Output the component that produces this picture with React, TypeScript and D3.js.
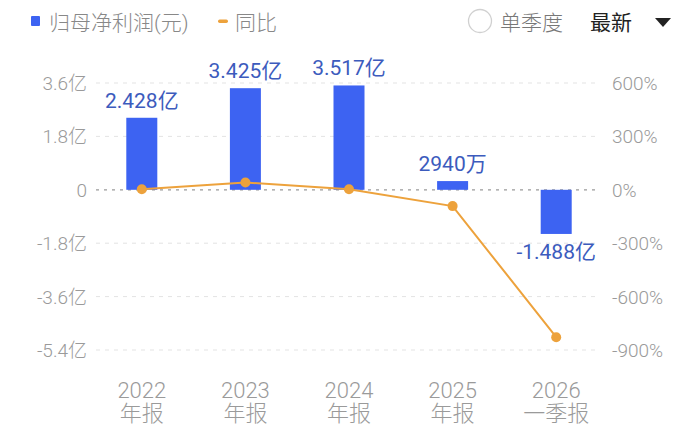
import React from 'react';
import * as d3 from 'd3';

const categories = ['2022', '2023', '2024', '2025', '2026'];
const periodLabels = ['年报', '年报', '年报', '年报', '一季报'];
const profitYi = [2.428, 3.425, 3.517, 0.294, -1.488];
const profitLabels = ['2.428亿', '3.425亿', '3.517亿', '2940万', '-1.488亿'];
const yoyPct = [3.5, 41.1, 2.7, -91.6, -828];
const leftTicks = [3.6, 1.8, 0, -1.8, -3.6, -5.4];
const rightTicks = [600, 300, 0, -300, -600, -900];

const W = 700;
const H = 434;
const FONT = 'Roboto, "Noto Sans CJK SC", sans-serif';
const BAR = '#3d63f2';
const LINE = '#eda23c';
const LABEL = '#3c5bbd';
const AXIS = '#9a9a9a';

export default function App() {
  const x = d3.scaleBand<string>().domain(categories).range([90, 608]);
  const yL = d3.scaleLinear().domain([-5.4, 3.6]).range([350, 83]);
  const yR = d3.scaleLinear().domain([-900, 600]).range([350, 83]);
  const bw = 31;
  const cx = (c: string) => (x(c) as number) + x.bandwidth() / 2;

  const line = d3
    .line<number>()
    .x((_, i) => cx(categories[i]))
    .y(d => yR(d));

  return (
    <div style={{ position: 'fixed', left: 0, top: 0 }}>
      <svg width={W} height={H} style={{ display: 'block', background: '#fff' }} fontFamily={FONT}>
        {/* legend */}
        <rect x={31} y={16} width={9} height={10} rx={1} fill={BAR} />
        <text x={49} y={30} fontSize={21} fill="#888" fontWeight={300}>归母净利润(元)</text>
        <rect x={218} y={19.5} width={10} height={3.5} rx={1.7} fill={LINE} />
        <text x={235} y={30} fontSize={21} fill="#888" fontWeight={300}>同比</text>
        <circle cx={480} cy={21} r={11.5} fill="none" stroke="#d0d0d0" strokeWidth={1.3} />
        <text x={500} y={30} fontSize={21} fill="#777" fontWeight={300}>单季度</text>
        <text x={590} y={30} fontSize={21} fill="#222">最新</text>
        <path d="M655,18 L671,18 L663,27 Z" fill="#222" />

        {/* grid */}
        {leftTicks.map(t => (
          <line
            key={t}
            x1={96}
            x2={598}
            y1={yL(t)}
            y2={yL(t)}
            stroke={t === 0 ? '#9a9a9a' : '#e3e3e3'}
            strokeWidth={t === 0 ? 1.3 : 1}
            strokeDasharray={t === 0 ? '3,5' : '4,5'}
          />
        ))}
        {leftTicks.map(t => (
          <text key={t} x={87} y={yL(t) + 7} fontSize={19} fill={AXIS} fontWeight={300} textAnchor="end">
            {t === 0 ? '0' : `${t}亿`}
          </text>
        ))}
        {rightTicks.map(t => (
          <text key={t} x={612} y={yR(t) + 7} fontSize={19} fill={AXIS} fontWeight={300}>
            {`${t}%`}
          </text>
        ))}

        {/* bars */}
        {categories.map((c, i) => {
          const v = profitYi[i];
          const y0 = yL(0);
          const y1 = yL(v);
          return (
            <rect
              key={c}
              x={cx(c) - bw / 2}
              y={Math.min(y0, y1)}
              width={bw}
              height={Math.abs(y1 - y0)}
              fill={BAR}
            />
          );
        })}
        {categories.map((c, i) => {
          const v = profitYi[i];
          const y1 = yL(v);
          const ty = v >= 0 ? y1 - 10 : y1 + 25;
          return (
            <text key={c} x={cx(c)} y={ty} fontSize={21} fill={LABEL} textAnchor="middle">
              {profitLabels[i]}
            </text>
          );
        })}

        {/* yoy line */}
        <path d={line(yoyPct) || ''} fill="none" stroke={LINE} strokeWidth={2} />
        {yoyPct.map((v, i) => (
          <circle key={i} cx={cx(categories[i])} cy={yR(v)} r={5} fill={LINE} />
        ))}

        {/* x labels */}
        {categories.map((c, i) => (
          <g key={c} fill={AXIS} fontSize={22} fontWeight={300} textAnchor="middle">
            <text x={cx(c)} y={398}>{c}</text>
            <text x={cx(c)} y={421}>{periodLabels[i]}</text>
          </g>
        ))}
      </svg>
    </div>
  );
}
